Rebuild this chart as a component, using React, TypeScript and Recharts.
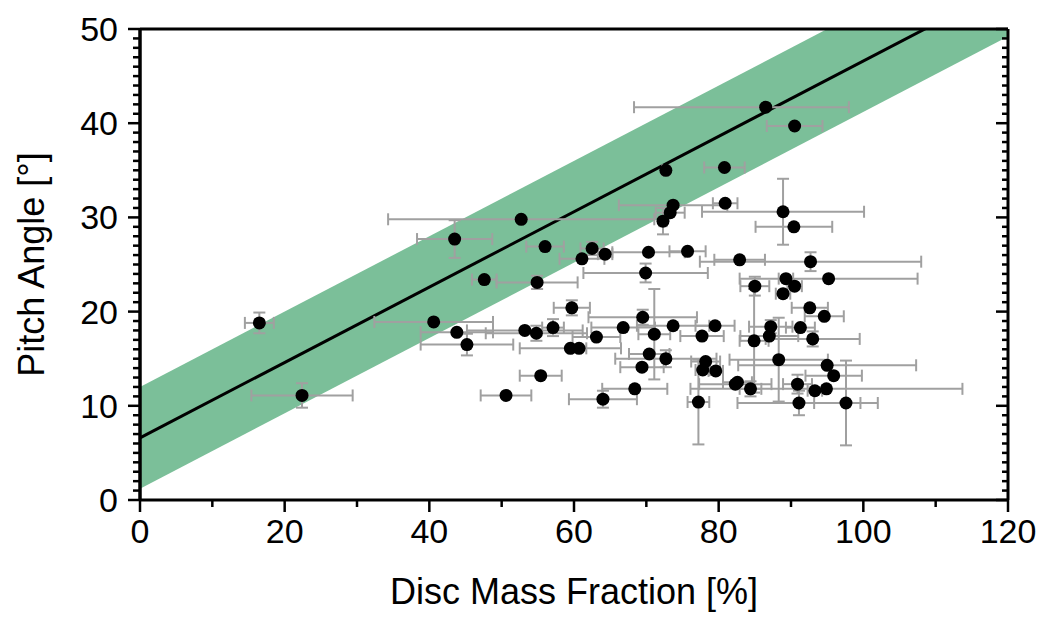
import React from "react"
import {
  ComposedChart,
  Area,
  Line,
  Scatter,
  ErrorBar,
  XAxis,
  YAxis,
  ReferenceLine,
} from "recharts"

// disc mass fraction [%] for each galaxy
const discFraction = [
  16.5, 22.4, 40.6, 43.5, 43.8, 45.2, 47.6, 52.7, 53.2, 54.8,
  54.9, 56.0, 57.1, 59.7, 59.5, 60.7, 55.4, 50.6, 61.1, 62.5,
  64.3, 70.3, 75.7, 69.9, 69.5, 66.8, 71.1, 73.7, 63.1, 70.4,
  72.7, 69.4, 68.4, 64.0, 72.7, 73.7, 73.3, 72.3, 80.8, 80.9,
  86.5, 90.5, 88.9, 90.4, 82.9, 92.7, 85.0, 89.3, 90.5, 88.9,
  95.2, 92.6, 94.6, 79.5, 87.2, 91.3, 77.7, 87.0, 93.0, 84.9,
  88.3, 78.2, 77.8, 79.6, 95.0, 95.9, 82.6, 82.3, 84.4, 90.9,
  93.3, 94.9, 91.1, 77.2, 97.6,
]

// pitch angle [deg]
const pitchAngle = [
  18.8, 11.1, 18.9, 27.7, 17.8, 16.5, 23.4, 29.8, 18.0, 17.7,
  23.1, 26.9, 18.3, 20.4, 16.1, 16.1, 13.2, 11.1, 25.6, 26.7,
  26.1, 26.3, 26.4, 24.1, 19.4, 18.3, 17.6, 18.5, 17.3, 15.5,
  15.0, 14.1, 11.8, 10.7, 35.0, 31.3, 30.5, 29.6, 35.3, 31.5,
  41.7, 39.7, 30.6, 29.0, 25.5, 25.3, 22.7, 23.5, 22.7, 21.9,
  23.5, 20.4, 19.5, 18.5, 18.4, 18.3, 17.4, 17.4, 17.1, 16.9,
  14.9, 14.7, 13.8, 13.7, 14.3, 13.2, 12.5, 12.3, 11.8, 12.3,
  11.6, 11.8, 10.3, 10.4, 10.3,
]

// errors (symmetric unless given as [low, high])
const fractionErr: (number | [number, number])[] = [
  2, 7, 8.2, 5.2, 5, 6.4, 1.7, 18.4, 8, 7,
  5.6, 2.6, 1.5, 2.5, 7, 1, 2.9, 3.5, 3.1, 1.6,
  1.0, 5, 2.5, 8.6, 7.5, 4.4, 2.2, 5, 3.3, 2.8,
  7, 3, 4.5, 4.7, 0.5, 7.5, 2, 0.5, 2.8, 1.7,
  [18.2, 11.5], 3.85, 11.2, 5.3, 3.5, 15.3, 2, 1, 1, 1,
  12.3, 2.5, 2.7, 2.7, 3, 2, 3, 4, 6.5, 2,
  6.8, 2, 1, 1, 12.3, 3.9, 2, 5, 1.5, 2,
  1, 18.8, 8.5, 1.5, 4.4,
]

const pitchErr = [
  1.1, 1.3, 0, 2.0, 0, 1.15, 0, 0, 0, 0.8,
  0.7, 0, 0.9, 0.8, 0, 0, 0, 0, 0, 0.7,
  0, 0, 0, 1.0, 0.8, 0, 4.8, 0, 0, 0,
  0.9, 0, 0, 0.9, 0, 0, 0, 1.4, 0, 0,
  0, 0, 3.5, 0, 0, 1.0, 1, 0, 0, 0,
  0, 0, 0, 0, 0.7, 0, 0, 0, 0.8, 5.5,
  4.45, 0, 0, 0, 0, 0, 0, 0, 0.8, 1,
  0, 0, 1.3, 4.5, 4.5,
]

// linear fit and its scatter band
const fitX = [0, 120]
const fitY = [6.6, 54.6]
const bandLow = [1.2, 49.2]
const bandHigh = [12.0, 60.0]

const xTicks = [0, 10, 20, 30, 40, 50, 60, 70, 80, 90, 100, 110, 120]
const yTicks = Array.from({ length: 51 }, (_, i) => i)

const points = discFraction.map((x, i) => ({
  x,
  y: pitchAngle[i],
  ex: fractionErr[i],
  ey: pitchErr[i],
}))
const fitData = fitX.map((x, i) => ({ x, fit: fitY[i] }))
const bandData = fitX.map((x, i) => ({ x, band: [bandLow[i], bandHigh[i]] }))

const FONT = "'Liberation Sans', Arial, Helvetica, sans-serif"
const FS = 34
const TITLE_FS = 36

const BottomTick = (props: any) => {
  const { x, y, payload } = props
  const major = payload.value % 20 === 0
  return (
    <g>
      <line x1={x} x2={x} y1={y} y2={y + (major ? 12 : 7)} stroke="#000" strokeWidth={2.5} />
      {major && (
        <text x={x} y={y + 43} textAnchor="middle" fontFamily={FONT} fontSize={FS} fill="#000">
          {payload.value}
        </text>
      )}
    </g>
  )
}

const TopTick = (props: any) => {
  const { x, y, payload } = props
  const major = payload.value % 20 === 0
  return <line x1={x} x2={x} y1={y} y2={y + (major ? 12 : 6)} stroke="#000" strokeWidth={2.5} />
}

const LeftTick = (props: any) => {
  const { x, y, payload } = props
  const major = payload.value % 10 === 0
  return (
    <g>
      <line x1={x - (major ? 12 : 7)} x2={x} y1={y} y2={y} stroke="#000" strokeWidth={2.5} />
      {major && (
        <text x={x - 22} y={y} textAnchor="end" dominantBaseline="central" fontFamily={FONT} fontSize={FS} fill="#000">
          {payload.value}
        </text>
      )}
    </g>
  )
}

const RightTick = (props: any) => {
  const { x, y, payload } = props
  const major = payload.value % 10 === 0
  return <line x1={x - (major ? 12 : 6)} x2={x} y1={y} y2={y} stroke="#000" strokeWidth={2.5} />
}

const XTitle = (props: any) => {
  const vb = props.viewBox
  return (
    <text x={vb.x + vb.width / 2} y={vb.y + 104} textAnchor="middle" fontFamily={FONT} fontSize={TITLE_FS} fill="#000">
      Disc Mass Fraction [%]
    </text>
  )
}

const YTitle = (props: any) => {
  const vb = props.viewBox
  const cx = 31
  const cy = vb.y + vb.height / 2
  return (
    <text
      x={cx}
      y={cy}
      transform={`rotate(-90, ${cx}, ${cy})`}
      textAnchor="middle"
      dominantBaseline="central"
      fontFamily={FONT}
      fontSize={TITLE_FS}
      fill="#000"
    >
      Pitch Angle [°]
    </text>
  )
}

const Dot = (props: any) => <circle cx={props.cx} cy={props.cy} r={6.5} fill="#000" />

export default function App() {
  const axisLine = { stroke: "#000", strokeWidth: 3 }
  return (
    <div style={{ position: "absolute", left: 0, top: 0, background: "#fff" }}>
      <ComposedChart width={1056} height={623} margin={{ top: 28, right: 47, bottom: 0, left: 0 }}>
        <XAxis
          xAxisId="b"
          dataKey="x"
          type="number"
          domain={[0, 120]}
          ticks={xTicks}
          interval={0}
          height={123}
          tickSize={0}
          tickMargin={0}
          tickLine={false}
          axisLine={axisLine}
          tick={BottomTick}
          label={<XTitle />}
        />
        <XAxis
          xAxisId="t"
          dataKey="x"
          type="number"
          orientation="top"
          domain={[0, 120]}
          ticks={xTicks}
          interval={0}
          height={1}
          tickSize={0}
          tickMargin={0}
          tickLine={false}
          axisLine={axisLine}
          tick={TopTick}
        />
        <YAxis
          yAxisId="l"
          type="number"
          domain={[0, 50]}
          ticks={yTicks}
          interval={0}
          allowDataOverflow
          width={140}
          tickSize={0}
          tickMargin={0}
          tickLine={false}
          axisLine={axisLine}
          tick={LeftTick}
          label={<YTitle />}
        />
        <YAxis
          yAxisId="r"
          type="number"
          orientation="right"
          domain={[0, 50]}
          ticks={yTicks}
          interval={0}
          allowDataOverflow
          width={1}
          tickSize={0}
          tickMargin={0}
          tickLine={false}
          axisLine={axisLine}
          tick={RightTick}
        />
        <Area
          xAxisId="b"
          yAxisId="l"
          data={bandData}
          dataKey="band"
          type="linear"
          fill="#7bbf99"
          fillOpacity={1}
          stroke="none"
          isAnimationActive={false}
        />
        <Line
          xAxisId="b"
          yAxisId="l"
          data={fitData}
          dataKey="fit"
          type="linear"
          stroke="#000"
          strokeWidth={3}
          dot={false}
          isAnimationActive={false}
        />
        <Scatter
          xAxisId="b"
          yAxisId="l"
          data={points}
          dataKey="y"
          shape={Dot}
          isAnimationActive={false}
        >
          <ErrorBar dataKey="ex" direction="x" width={6} stroke="#a0a0a0" strokeWidth={2} />
          <ErrorBar dataKey="ey" direction="y" width={6} stroke="#a0a0a0" strokeWidth={2} />
        </Scatter>
        <ReferenceLine xAxisId="b" yAxisId="l" x={0} stroke="#000" strokeWidth={3} />
      </ComposedChart>
    </div>
  )
}
